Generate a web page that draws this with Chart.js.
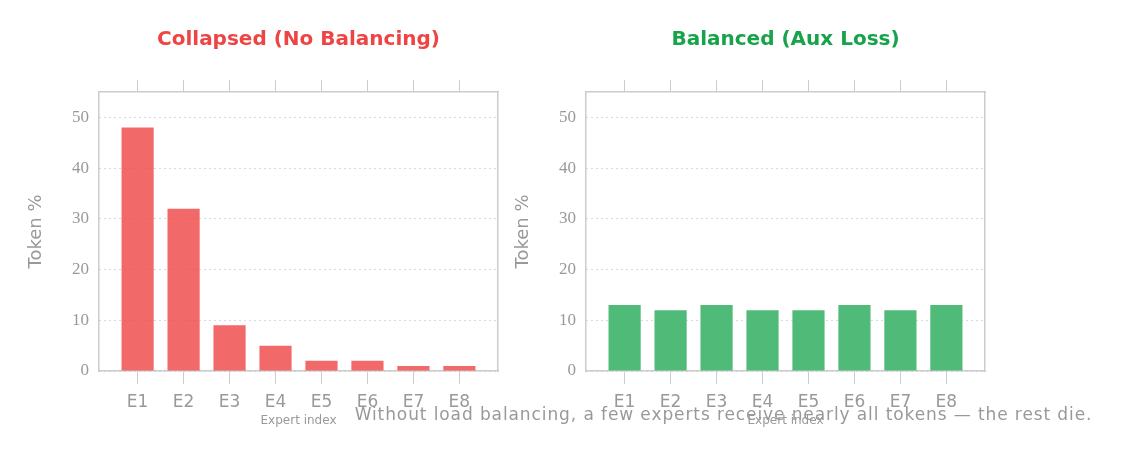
<!DOCTYPE html>
<html>
<head>
<meta charset="utf-8">
<script src="https://cdn.jsdelivr.net/npm/chart.js@4.4.1/dist/chart.umd.min.js"></script>
<style>
  body { margin: 0; background: #fff; width: 1124px; height: 458px; overflow: hidden; position: relative; }
  .panel { position: absolute; top: 0; width: 520px; height: 458px; }
  #caption { position: absolute; left: 352px; width: 743px; top: 404px; text-align: center;
    font-family: "DejaVu Sans", sans-serif; font-size: 17px; letter-spacing: 0.9px; color: #999; white-space: nowrap; }
</style>
</head>
<body>
<div class="panel" style="left:0px"><canvas id="chartCollapsed" width="520" height="458"></canvas></div>
<div class="panel" style="left:487px"><canvas id="chartBalanced" width="520" height="458"></canvas></div>
<div id="caption">Without load balancing, a few experts receive nearly all tokens — the rest die.</div>
<script>
// donnees
var experts = ['E1','E2','E3','E4','E5','E6','E7','E8'];
var collapsedShare = [48, 32, 9, 5, 2, 2, 1, 1];
var balancedShare = [13, 12, 13, 12, 12, 13, 12, 13];
var yTicks = [0, 10, 20, 30, 40, 50];

Chart.defaults.font.family = '"DejaVu Sans", sans-serif';
Chart.defaults.color = '#999';

// ticks aux positions des experts (0..7)
function ticksExperts(s) {
  s.ticks = experts.map(function(e, i) { return { value: i }; });
}

function makePanel(canvasId, titre, couleurTitre, couleurBarre, valeurs) {
  var points = valeurs.map(function(v, i) { return { x: i, y: v }; });
  return new Chart(document.getElementById(canvasId), {
    type: 'bar',
    data: {
      datasets: [{
        data: points,
        backgroundColor: couleurBarre,
        borderWidth: 0,
        barPercentage: 0.7,
        categoryPercentage: 1
      }]
    },
    options: {
      responsive: false,
      animation: false,
      layout: { padding: { left: 0, right: 22, top: 0, bottom: 0 } },
      plugins: {
        legend: { display: false },
        tooltip: { enabled: false },
        title: {
          display: true,
          text: titre,
          color: couleurTitre,
          fullSize: false,
          font: { size: 20, weight: 'bold' },
          padding: { top: 28, bottom: 28 }
        }
      },
      scales: {
        x: {
          type: 'linear',
          position: 'bottom',
          offset: false,
          min: -0.84,
          max: 7.84,
          afterBuildTicks: ticksExperts,
          ticks: {
            color: '#999',
            font: { size: 17 },
            padding: 8,
            callback: function(v) { return experts[v]; }
          },
          grid: { offset: false, drawOnChartArea: false, tickLength: 13, color: '#ccc' },
          border: { color: '#ccc', width: 1.5 },
          title: { display: true, text: 'Expert index', color: '#999', font: { size: 12 }, padding: { top: 0, bottom: 30 } },
          afterFit: function(s) { s.height = 87; }
        },
        xTop: {
          type: 'linear',
          position: 'top',
          offset: false,
          min: -0.84,
          max: 7.84,
          afterBuildTicks: ticksExperts,
          ticks: { display: false },
          grid: { offset: false, drawOnChartArea: false, tickLength: 12, color: '#ccc' },
          border: { color: '#ccc', width: 1.5 },
          afterFit: function(s) { s.height = 12; }
        },
        y: {
          min: 0,
          max: 55,
          afterBuildTicks: function(s) { s.ticks = yTicks.map(function(v) { return { value: v }; }); },
          ticks: { color: '#999', font: { family: '"Liberation Serif", serif', size: 17 }, padding: 10 },
          grid: { color: 'rgba(0,0,0,0.3)', drawTicks: false },
          border: { color: '#ccc', width: 1.5, dash: [1, 4] },
          title: { display: true, text: 'Token %', color: '#999', font: { size: 18 }, padding: { top: 26 } },
          afterFit: function(s) { s.width = 99; }
        },
        yRight: {
          position: 'right',
          min: 0,
          max: 55,
          ticks: { display: false },
          grid: { drawOnChartArea: false, drawTicks: false },
          border: { color: '#ccc', width: 1.5 },
          afterFit: function(s) { s.width = 0; }
        }
      }
    }
  });
}

makePanel('chartCollapsed', 'Collapsed (No Balancing)', '#ef4444', 'rgba(239,68,68,0.8)', collapsedShare);
makePanel('chartBalanced', 'Balanced (Aux Loss)', '#16a34a', 'rgb(80,187,120)', balancedShare);
</script>
</body>
</html>
